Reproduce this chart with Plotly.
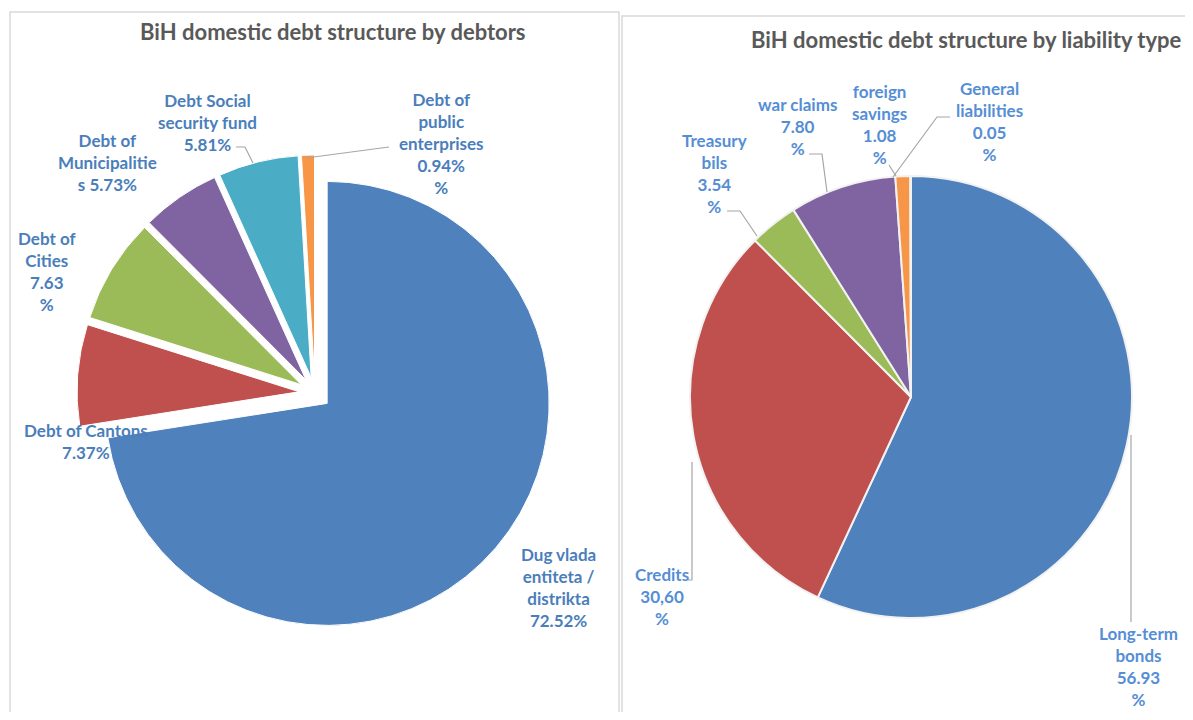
import plotly.graph_objects as go

# ---------------- data ----------------
debtor_labels = ["Dug vlada entiteta / distrikta", "Debt of Cantons", "Debt of Cities",
                 "Debt of Municipalities", "Debt Social security fund", "Debt of public enterprises"]
debtor_values = [72.52, 7.37, 7.63, 5.73, 5.81, 0.94]
debtor_texts = ["Dug vlada<br>entiteta /<br>distrikta<br>72.52%",
                "Debt of Cantons<br>7.37%",
                "Debt of<br>Cities<br>7.63<br>%",
                "Debt of<br>Municipalitie<br>s 5.73%",
                "Debt Social<br>security fund<br>5.81%",
                "Debt of<br>public<br>enterprises<br>0.94%<br>%"]

liab_labels = ["Long-term bonds", "Credits", "Treasury bils", "war claims",
               "foreign savings", "General liabilities"]
liab_values = [56.93, 30.60, 3.54, 7.80, 1.08, 0.05]
liab_texts = ["Long-term<br>bonds<br>56.93<br>%",
              "Credits<br>30,60<br>%",
              "Treasury<br>bils<br>3.54<br>%",
              "war claims<br>7.80<br>%",
              "foreign<br>savings<br>1.08<br>%",
              "General<br>liabilities<br>0.05<br>%"]

title_left = "BiH domestic debt structure by debtors"
title_right = "BiH domestic debt structure by liability type"

# ---------------- layout helpers ----------------
W, H = 1177, 704  # figure size (page has 8px body margin)
OFF = 8


def px(X):
    return (X - OFF) / W


def py(Y):
    return 1 - (Y - OFF) / H


colors = ["#4F81BD", "#C0504D", "#9BBB59", "#8064A2", "#4BACC6", "#F79646"]
colors_r = ["#4F81BD", "#C0504D", "#9BBB59", "#8064A2", "#F79646", "#4BACC6"]

fig = go.Figure()

# left pie (exploded)
lc, lr, pull = (315, 393), 222, 0.072
half = lr * (1 + pull)
fig.add_trace(go.Pie(
    labels=debtor_labels, values=debtor_values, sort=False, direction="clockwise",
    rotation=0, pull=[pull] * len(debtor_values), textinfo="none", hoverinfo="label+percent",
    marker=dict(colors=colors, line=dict(color="white", width=1)),
    domain=dict(x=[px(lc[0] - half), px(lc[0] + half)], y=[py(lc[1] + half), py(lc[1] - half)]),
    showlegend=False,
))

# right pie
rc, rr = (911, 397), 221
fig.add_trace(go.Pie(
    labels=liab_labels, values=liab_values, sort=False, direction="clockwise",
    rotation=0, textinfo="none", hoverinfo="label+percent",
    marker=dict(colors=colors_r, line=dict(color="#F2F2F2", width=2)),
    domain=dict(x=[px(rc[0] - rr), px(rc[0] + rr)], y=[py(rc[1] + rr), py(rc[1] - rr)]),
    showlegend=False,
))

# label placement (reference pixel centres)
left_pos = [(558, 587), (86, 441), (47, 271), (107, 162), (207, 123), (441, 143)]
right_pos = [(1138, 666), (662, 596), (714, 173), (797, 126), (879, 124), (989, 122)]

font_l = dict(family="Lato", size=17, color="#4A7EBB")
font_r = dict(family="Lato", size=17, color="#558ED5")

annotations = []
for t, (x, y) in zip(debtor_texts, left_pos):
    annotations.append(dict(text="<b>" + t.replace("<br>", "</b><br><b>") + "</b>",
                            x=px(x), y=py(y), xref="paper", yref="paper",
                            showarrow=False, font=font_l, align="center",
                            xanchor="center", yanchor="middle"))
for t, (x, y) in zip(liab_texts, right_pos):
    annotations.append(dict(text="<b>" + t.replace("<br>", "</b><br><b>") + "</b>",
                            x=px(x), y=py(y), xref="paper", yref="paper",
                            showarrow=False, font=font_r, align="center",
                            xanchor="center", yanchor="middle"))

title_font = dict(family="Lato", size=22, color="#595959")
annotations.append(dict(text="<b>" + title_left + "</b>", x=px(333), y=py(32), xref="paper",
                        yref="paper", showarrow=False, font=title_font, xanchor="center",
                        yanchor="middle"))
annotations.append(dict(text="<b>" + title_right + "</b>", x=px(966), y=py(40), xref="paper",
                        yref="paper", showarrow=False, font=title_font, xanchor="center",
                        yanchor="middle"))

shapes = []
# panel borders
shapes.append(dict(type="rect", xref="paper", yref="paper", x0=px(10), x1=px(619),
                   y0=py(730), y1=py(12), line=dict(color="#D9D9D9", width=1.5),
                   fillcolor="rgba(0,0,0,0)", layer="below"))
shapes.append(dict(type="rect", xref="paper", yref="paper", x0=px(622), x1=px(1200),
                   y0=py(730), y1=py(16), line=dict(color="#D9D9D9", width=1.5),
                   fillcolor="rgba(0,0,0,0)", layer="below"))

# leader lines
leaders = [
    [(236, 147), (245, 147), (253, 163)],
    [(389, 147), (306, 158)],
    [(727, 211), (740, 211), (757, 236)],
    [(809, 154), (822, 154), (827, 192)],
    [(889, 165), (896, 176)],
    [(950, 117), (937, 117), (893, 177)],
    [(692, 462), (692, 580), (688, 580)],
    [(1131, 435), (1131, 622)],
]
for pts in leaders:
    path = "M " + " L ".join(f"{px(x)},{py(y)}" for x, y in pts)
    shapes.append(dict(type="path", xref="paper", yref="paper", path=path,
                       line=dict(color="#A6A6A6", width=1.2)))

fig.update_layout(
    width=W, height=H, margin=dict(l=0, r=0, t=0, b=0),
    paper_bgcolor="white", plot_bgcolor="white",
    annotations=annotations, shapes=shapes,
)

fig.write_html("out.html")
